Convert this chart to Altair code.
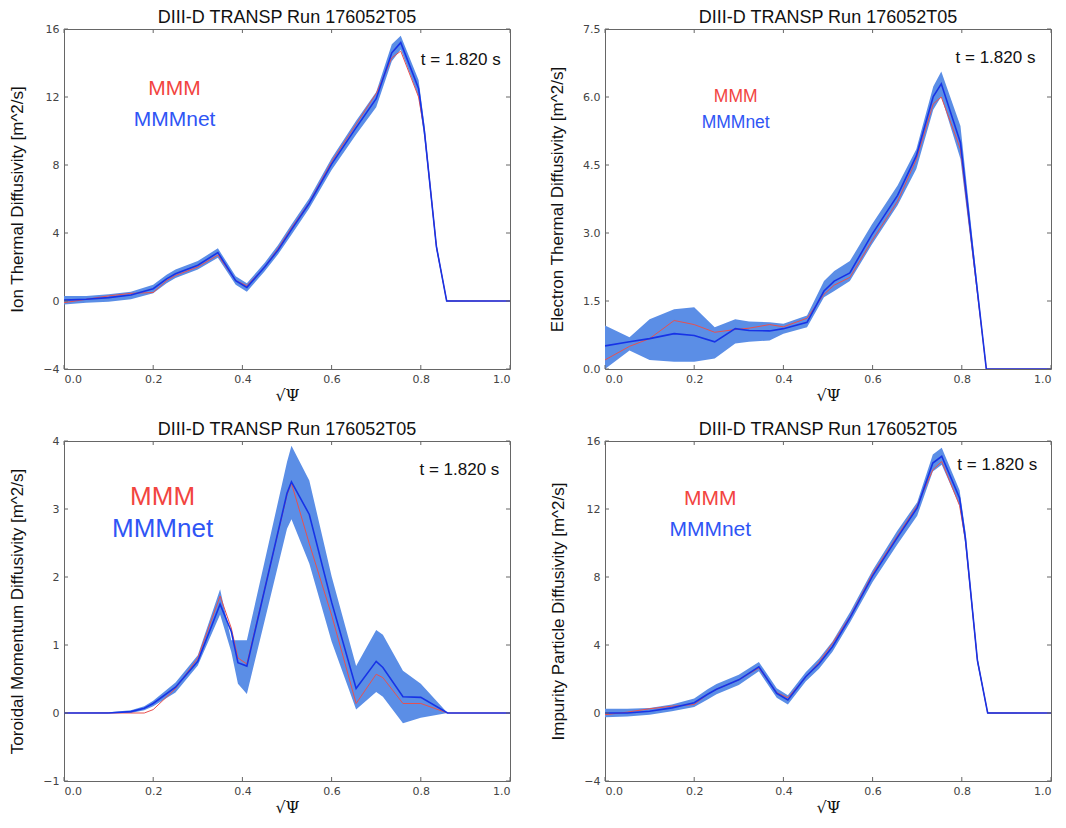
import altair as alt
import pandas as pd

# ---------------- data ----------------
TITLE = "DIII-D TRANSP Run 176052T05"
X_TICKS = [0.0, 0.2, 0.4, 0.6, 0.8, 1.0]

# Panel 1: Ion thermal diffusivity
x1 = [0.0, 0.05, 0.1, 0.15, 0.2, 0.23, 0.25, 0.3, 0.345, 0.385, 0.41, 0.45, 0.48, 0.51, 0.55,
      0.6, 0.655, 0.7, 0.735, 0.755, 0.795, 0.808, 0.835, 0.858, 1.0]
mmm1 = [-0.1, 0.1, 0.3, 0.45, 0.5, 1.2, 1.5, 2.0, 2.7, 1.2, 0.9, 2.0, 3.1, 4.3, 5.8,
        8.2, 10.4, 12.2, 14.3, 14.7, 12.0, 10.0, 3.2, 0.0, 0.0]
net1 = [0.05, 0.1, 0.2, 0.35, 0.72, 1.3, 1.6, 2.1, 2.85, 1.2, 0.8, 2.0, 3.0, 4.2, 5.75,
        8.05, 10.2, 11.9, 14.6, 15.2, 12.5, 10.0, 3.2, 0.0, 0.0]
hi1 = [0.3, 0.3, 0.4, 0.55, 0.95, 1.55, 1.85, 2.35, 3.1, 1.45, 1.05, 2.25, 3.3, 4.5, 6.05,
       8.4, 10.6, 12.3, 15.1, 15.6, 13.0, 10.4, 3.4, 0.05, 0.0]
lo1 = [-0.2, -0.1, -0.05, 0.1, 0.45, 1.05, 1.35, 1.85, 2.55, 0.95, 0.55, 1.75, 2.75, 3.9, 5.45,
       7.7, 9.8, 11.4, 14.1, 14.8, 12.0, 9.6, 3.0, -0.05, 0.0]
y_ticks1 = [-4, 0, 4, 8, 12, 16]

# Panel 2: Electron thermal diffusivity
x2 = [0.0, 0.055, 0.1, 0.155, 0.2, 0.246, 0.292, 0.323, 0.369, 0.4, 0.453, 0.491, 0.514, 0.549,
      0.598, 0.656, 0.698, 0.736, 0.754, 0.797, 0.855, 1.0]
mmm2 = [0.2, 0.5, 0.67, 1.07, 0.98, 0.81, 0.87, 0.9, 0.98, 0.93, 1.12, 1.65, 1.85, 2.02,
        2.82, 3.70, 4.62, 5.85, 6.0, 4.85, 0.0, 0.0]
net2 = [0.51, 0.6, 0.67, 0.78, 0.74, 0.6, 0.89, 0.85, 0.84, 0.89, 1.03, 1.72, 1.94, 2.12,
        2.96, 3.83, 4.70, 6.01, 6.29, 4.99, 0.0, 0.0]
hi2 = [0.96, 0.7, 1.1, 1.32, 1.36, 0.92, 1.1, 1.05, 1.03, 1.0, 1.18, 1.94, 2.16, 2.38,
       3.18, 4.05, 4.85, 6.23, 6.56, 5.36, 0.0, 0.0]
lo2 = [0.0, 0.41, 0.2, 0.16, 0.16, 0.23, 0.56, 0.6, 0.63, 0.78, 0.92, 1.58, 1.72, 1.94,
       2.74, 3.61, 4.41, 5.72, 6.01, 4.63, 0.0, 0.0]
y_ticks2 = [0.0, 1.5, 3.0, 4.5, 6.0, 7.5]

# Panel 3: Toroidal momentum diffusivity
x3 = [0.0, 0.1, 0.15, 0.18, 0.2, 0.25, 0.3, 0.35, 0.375, 0.39, 0.41, 0.5, 0.51, 0.55, 0.6,
      0.655, 0.7, 0.715, 0.76, 0.8, 0.86, 1.0]
mmm3 = [0.0, 0.0, 0.0, 0.0, 0.05, 0.36, 0.81, 1.72, 1.25, 0.81, 0.72, 3.21, 3.38, 2.49, 1.44,
        0.14, 0.57, 0.52, 0.14, 0.14, 0.0, 0.0]
net3 = [0.0, 0.0, 0.02, 0.07, 0.14, 0.38, 0.76, 1.60, 1.2, 0.74, 0.69, 3.23, 3.40, 2.92, 1.63,
        0.36, 0.76, 0.67, 0.24, 0.23, 0.0, 0.0]
hi3 = [0.0, 0.01, 0.04, 0.1, 0.18, 0.45, 0.85, 1.82, 1.07, 1.07, 1.07, 3.69, 3.93, 3.42, 2.01,
       0.69, 1.22, 1.15, 0.62, 0.43, 0.0, 0.0]
lo3 = [0.0, 0.0, 0.0, 0.04, 0.1, 0.3, 0.7, 1.45, 0.9, 0.43, 0.28, 2.71, 2.85, 2.2, 1.05,
       0.05, 0.31, 0.24, -0.15, -0.07, 0.0, 0.0]
y_ticks3 = [-1, 0, 1, 2, 3, 4]

# Panel 4: Impurity particle diffusivity
x4 = [0.0, 0.05, 0.1, 0.15, 0.2, 0.23, 0.25, 0.3, 0.345, 0.385, 0.41, 0.45, 0.48, 0.51, 0.55,
      0.6, 0.655, 0.7, 0.735, 0.755, 0.795, 0.808, 0.835, 0.858, 1.0]
mmm4 = [-0.1, 0.05, 0.25, 0.4, 0.5, 1.1, 1.4, 1.95, 2.65, 1.2, 0.9, 2.1, 3.0, 4.1, 5.7,
        8.2, 10.4, 12.2, 14.3, 14.8, 12.2, 10.2, 3.1, 0.0, 0.0]
net4 = [0.0, 0.0, 0.1, 0.3, 0.6, 1.1, 1.4, 1.95, 2.72, 1.16, 0.77, 2.13, 2.9, 3.9, 5.64,
        8.07, 10.3, 12.07, 14.7, 15.1, 12.65, 10.3, 3.1, 0.0, 0.0]
hi4 = [0.25, 0.25, 0.3, 0.5, 0.85, 1.4, 1.7, 2.25, 3.0, 1.45, 1.05, 2.4, 3.2, 4.2, 5.95,
       8.4, 10.7, 12.4, 15.2, 15.6, 13.1, 10.7, 3.3, 0.05, 0.0]
lo4 = [-0.25, -0.2, -0.1, 0.1, 0.35, 0.8, 1.1, 1.65, 2.45, 0.9, 0.5, 1.85, 2.6, 3.6, 5.35,
       7.7, 9.9, 11.6, 14.2, 14.6, 12.2, 9.9, 2.9, -0.05, 0.0]

# ---------------- styling ----------------
W, H = 446, 340
BAND = "#5b8ee6"
NET = "#1733e6"
RED = "#e8504f"
TICK = "#666666"


def panel(x, mmm, net, lo, hi, yticks, ytitle, fmt, ann):
    dom = [yticks[0], yticks[-1]]
    df = pd.DataFrame({"x": x, "mmm": mmm, "net": net, "lo": lo, "hi": hi})
    xs = alt.Scale(domain=[0, 1], nice=False, zero=False)
    ys = alt.Scale(domain=dom, nice=False, zero=False)
    xax = alt.Axis(values=X_TICKS, format=".1f", title="√Ψ", grid=False, ticks=False,
                   domain=False, labelPadding=4, titlePadding=3,
                   titleFont="DejaVu Serif", titleFontSize=16, titleFontWeight="normal")
    yax = alt.Axis(values=yticks, format=fmt, title=ytitle, grid=False, ticks=False,
                   domain=False, labelPadding=5, titlePadding=16,
                   titleFont="Liberation Sans", titleFontSize=17, titleFontWeight="normal")

    def X(field):
        return alt.X(field, scale=xs, axis=xax, title="√Ψ")

    def Y(field):
        return alt.Y(field, scale=ys, axis=yax, title=ytitle)

    base = alt.Chart(df)
    band = base.mark_area(color=BAND, opacity=1, clip=True).encode(
        x=X("x:Q"), y=Y("lo:Q"), y2="hi:Q",
    )
    red = base.mark_line(color=RED, strokeWidth=1, clip=True).encode(x=X("x:Q"), y=Y("mmm:Q"))
    blue = base.mark_line(color=NET, strokeWidth=1.6, clip=True).encode(x=X("x:Q"), y=Y("net:Q"))
    xt = alt.Chart(pd.DataFrame({"v": X_TICKS}))
    yt = alt.Chart(pd.DataFrame({"v": yticks}))
    tb = xt.mark_rule(color=TICK).encode(x=X("v:Q"), y=alt.value(H), y2=alt.value(H - 4))
    tt = xt.mark_rule(color=TICK).encode(x=X("v:Q"), y=alt.value(0), y2=alt.value(4))
    tl = yt.mark_rule(color=TICK).encode(y=Y("v:Q"), x=alt.value(0), x2=alt.value(4))
    tr = yt.mark_rule(color=TICK).encode(y=Y("v:Q"), x=alt.value(W), x2=alt.value(W - 4))
    (mx, my1, my2, msize), (tx, ty) = ann
    ann_df = pd.DataFrame({
        "x": [mx, mx, tx], "y": [my1, my2, ty],
        "label": ["MMM", "MMMnet", "t = 1.820 s"],
    })
    ac = alt.Chart(ann_df)
    t_mmm = ac.transform_filter(alt.datum.label == "MMM").mark_text(
        color="#f2453f", fontSize=msize, font="Liberation Sans", align="center",
        baseline="middle").encode(x=X("x:Q"), y=Y("y:Q"), text="label:N")
    t_net = ac.transform_filter(alt.datum.label == "MMMnet").mark_text(
        color="#2f55f5", fontSize=msize, font="Liberation Sans", align="center",
        baseline="middle").encode(x=X("x:Q"), y=Y("y:Q"), text="label:N")
    t_time = ac.transform_filter(alt.datum.label == "t = 1.820 s").mark_text(
        color="#111111", fontSize=17, font="Liberation Sans", align="left",
        baseline="middle").encode(x=X("x:Q"), y=Y("y:Q"), text="label:N")
    return alt.layer(band, red, blue, tb, tt, tl, tr, t_mmm, t_net, t_time).properties(
        width=W, height=H,
        title=alt.TitleParams(TITLE, fontSize=18, font="Liberation Sans", fontWeight="normal",
                              color="#111111", offset=-4, anchor="middle", frame="group"),
    )


p1 = panel(x1, mmm1, net1, lo1, hi1, y_ticks1, "Ion Thermal Diffusivity [m^2/s]", "d",
           ((0.248, 12.47, 10.62, 21), (0.80, 14.2)))
p2 = panel(x2, mmm2, net2, lo2, hi2, y_ticks2, "Electron Thermal Diffusivity [m^2/s]", ".1f",
           ((0.293, 6.0, 5.43, 17.5), (0.786, 6.87)))
p3 = panel(x3, mmm3, net3, lo3, hi3, y_ticks3, "Toroidal Momentum Diffusivity [m^2/s]", "d",
           ((0.221, 3.18, 2.71, 26), (0.797, 3.58)))
p4 = panel(x4, mmm4, net4, lo4, hi4, y_ticks1, "Impurity Particle Diffusivity [m^2/s]", "d",
           ((0.236, 12.6, 10.74, 21), (0.79, 14.6)))

chart = alt.concat(p1, p2, p3, p4, columns=2, spacing={"row": 16, "column": 37}).properties(
    padding=0,
).configure_view(
    stroke="#666666", strokeWidth=1,
).configure_axis(
    labelFont="DejaVu Sans", labelFontSize=11, labelColor="#444444", titleColor="#111111",
)

chart.save("out.html", embed_options={"renderer": "svg", "actions": False})
